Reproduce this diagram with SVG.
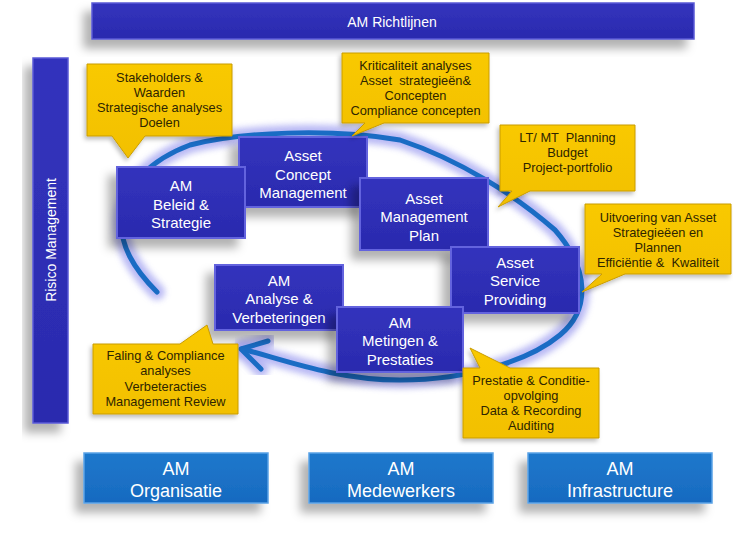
<svg xmlns="http://www.w3.org/2000/svg" width="733" height="538" viewBox="0 0 733 538">
<defs>
  <filter id="shd" x="-30%" y="-30%" width="160%" height="180%">
    <feDropShadow dx="-8" dy="9" stdDeviation="5" flood-color="#000" flood-opacity="0.3"/>
  </filter>
  <filter id="shdS" x="-20%" y="-20%" width="140%" height="150%">
    <feDropShadow dx="-2" dy="3" stdDeviation="2" flood-color="#000" flood-opacity="0.25"/>
  </filter>
  <filter id="glow" x="-20%" y="-20%" width="140%" height="140%">
    <feGaussianBlur stdDeviation="3"/>
  </filter>
  <linearGradient id="gBlue" x1="0" y1="0" x2="0" y2="1">
    <stop offset="0" stop-color="#3333bd"/>
    <stop offset="1" stop-color="#2a2aae"/>
  </linearGradient>
  <linearGradient id="gLight" x1="0" y1="0" x2="0" y2="1">
    <stop offset="0" stop-color="#1f78cc"/>
    <stop offset="1" stop-color="#176ac0"/>
  </linearGradient>
  <linearGradient id="gYel" x1="0" y1="0" x2="0" y2="1">
    <stop offset="0" stop-color="#f9c900"/>
    <stop offset="1" stop-color="#f2c000"/>
  </linearGradient>
</defs>
<style>
  .bar { fill: url(#gBlue); stroke: #5a5ad6; stroke-width: 1.5; filter: url(#shd); }
  .node { fill: url(#gBlue); stroke: #6464de; stroke-width: 2; filter: url(#shd); }
  .base { fill: url(#gLight); stroke: #5aa2e6; stroke-width: 1.5; filter: url(#shd); }
  .call { fill: url(#gYel); stroke: #c99c00; stroke-width: 1; filter: url(#shdS); }
  .wt { font-family: "Liberation Sans", Arial, sans-serif; fill: #ffffff; text-anchor: middle; }
  .nt { font-size: 15px; }
  .bt { font-size: 18px; }
  .ct { font-family: "Liberation Sans", Arial, sans-serif; font-size: 12.8px; fill: #2e2500; text-anchor: middle; white-space: pre; }
  .ringGlow { fill: none; stroke: #a8a8f2; stroke-width: 16; stroke-linecap: round; stroke-linejoin: round; opacity: 0.8; filter: url(#glow); }
  .ring { fill: none; stroke: #1a6cc4; stroke-width: 5; stroke-linecap: round; stroke-linejoin: round; }
</style>

<rect width="733" height="538" fill="#ffffff"/>

<g id="richtlijnen">
  <rect class="bar" x="92" y="3" width="602" height="36"/>
  <text class="wt" x="392" y="27" font-size="14">AM Richtlijnen</text>
</g>

<g id="risico">
  <rect class="bar" x="33" y="58" width="35" height="365"/>
  <text class="wt" x="0" y="0" font-size="14" transform="translate(55.5,240) rotate(-90)">Risico Management</text>
</g>

<g id="connectors">
  <path class="ringGlow" d="M157,292 C135,270 118,245 122,215 C126,185 150,160 190,145 C240,132 330,128 400,140 C460,160 515,195 555,230 C590,270 590,310 560,335 C530,360 470,380 400,380 C335,380 282,359 242,349"/>
  <polyline class="ringGlow" points="268,341 241,349 261,369"/>
  <path class="ring" d="M157,292 C135,270 118,245 122,215 C126,185 150,160 190,145 C240,132 330,128 400,140 C460,160 515,195 555,230 C590,270 590,310 560,335 C530,360 470,380 400,380 C335,380 282,359 242,349"/>
  <polyline class="ring" points="268,341 241,349 261,369" stroke-width="6"/>
</g>

<g id="concept">
  <rect class="node" x="239" y="137" width="128" height="70"/>
  <text class="wt nt" x="303" y="161">Asset</text>
  <text class="wt nt" x="303" y="179.5">Concept</text>
  <text class="wt nt" x="303" y="198">Management</text>
</g>

<g id="beleid">
  <rect class="node" x="117" y="167" width="128" height="71"/>
  <text class="wt nt" x="181" y="191">AM</text>
  <text class="wt nt" x="181" y="209.5">Beleid &amp;</text>
  <text class="wt nt" x="181" y="228">Strategie</text>
</g>

<g id="plan">
  <rect class="node" x="360" y="178" width="128" height="72"/>
  <text class="wt nt" x="424" y="203.5">Asset</text>
  <text class="wt nt" x="424" y="222">Management</text>
  <text class="wt nt" x="424" y="240.5">Plan</text>
</g>

<g id="analyse">
  <rect class="node" x="215" y="265" width="128" height="65"/>
  <text class="wt nt" x="279" y="285.5">AM</text>
  <text class="wt nt" x="279" y="304">Analyse &amp;</text>
  <text class="wt nt" x="279" y="322.5">Verbeteringen</text>
</g>

<g id="service">
  <rect class="node" x="451" y="247" width="128" height="66"/>
  <text class="wt nt" x="515" y="267.5">Asset</text>
  <text class="wt nt" x="515" y="286">Service</text>
  <text class="wt nt" x="515" y="304.5">Providing</text>
</g>

<g id="metingen">
  <rect class="node" x="337" y="307" width="126" height="65"/>
  <text class="wt nt" x="400" y="327.5">AM</text>
  <text class="wt nt" x="400" y="346">Metingen &amp;</text>
  <text class="wt nt" x="400" y="364.5">Prestaties</text>
</g>

<g id="call-stakeholders">
  <path class="call" d="M87,64 H232 V136 H145 L128,158 L112,136 H87 Z"/>
  <text class="ct" x="159.5" y="81.5">Stakeholders &amp;</text>
  <text class="ct" x="159.5" y="96.5">Waarden</text>
  <text class="ct" x="159.5" y="111.5">Strategische analyses</text>
  <text class="ct" x="159.5" y="126.5">Doelen</text>
</g>

<g id="call-kriticaliteit">
  <path class="call" d="M342,53 H489 V123 H384 L352,136 L365,123 H342 Z"/>
  <text class="ct" x="415.5" y="69.5">Kriticaliteit analyses</text>
  <text class="ct" x="415.5" y="84.5">Asset  strategieën&amp;</text>
  <text class="ct" x="415.5" y="99.5">Concepten</text>
  <text class="ct" x="415.5" y="115">Compliance concepten</text>
</g>

<g id="call-planning">
  <path class="call" d="M500,125 H635 V191 H530 L498,207 L512,191 H500 Z"/>
  <text class="ct" x="567.5" y="141.5">LT/ MT  Planning</text>
  <text class="ct" x="567.5" y="156.5">Budget</text>
  <text class="ct" x="567.5" y="171.5">Project-portfolio</text>
</g>

<g id="call-uitvoering">
  <path class="call" d="M585,204 H731 V274 H625 L582,292 L602,274 H585 Z"/>
  <text class="ct" x="658" y="221.5">Uitvoering van Asset</text>
  <text class="ct" x="658" y="236.5">Strategieëen en</text>
  <text class="ct" x="658" y="251.5">Plannen</text>
  <text class="ct" x="658" y="266.5">Efficiëntie &amp;  Kwaliteit</text>
</g>

<g id="call-faling">
  <path class="call" d="M93,344 H180 L207,325 L213,344 H238 V414 H93 Z"/>
  <text class="ct" x="165.5" y="359.5">Faling &amp; Compliance</text>
  <text class="ct" x="165.5" y="375">analyses</text>
  <text class="ct" x="165.5" y="390.5">Verbeteracties</text>
  <text class="ct" x="165.5" y="406">Management Review</text>
</g>

<g id="call-prestatie">
  <path class="call" d="M463,368 H480 L470,348 L510,368 H599 V438 H463 Z"/>
  <text class="ct" x="531" y="384.5">Prestatie &amp; Conditie-</text>
  <text class="ct" x="531" y="399.5">opvolging</text>
  <text class="ct" x="531" y="414.5">Data &amp; Recording</text>
  <text class="ct" x="531" y="430">Auditing</text>
</g>

<g id="organisatie">
  <rect class="base" x="84" y="453" width="184" height="50"/>
  <text class="wt bt" x="176" y="474.5">AM</text>
  <text class="wt bt" x="176" y="496.5">Organisatie</text>
</g>

<g id="medewerkers">
  <rect class="base" x="309" y="453" width="184" height="50"/>
  <text class="wt bt" x="401" y="474.5">AM</text>
  <text class="wt bt" x="401" y="496.5">Medewerkers</text>
</g>

<g id="infrastructure">
  <rect class="base" x="528" y="453" width="184" height="50"/>
  <text class="wt bt" x="620" y="474.5">AM</text>
  <text class="wt bt" x="620" y="496.5">Infrastructure</text>
</g>
</svg>
